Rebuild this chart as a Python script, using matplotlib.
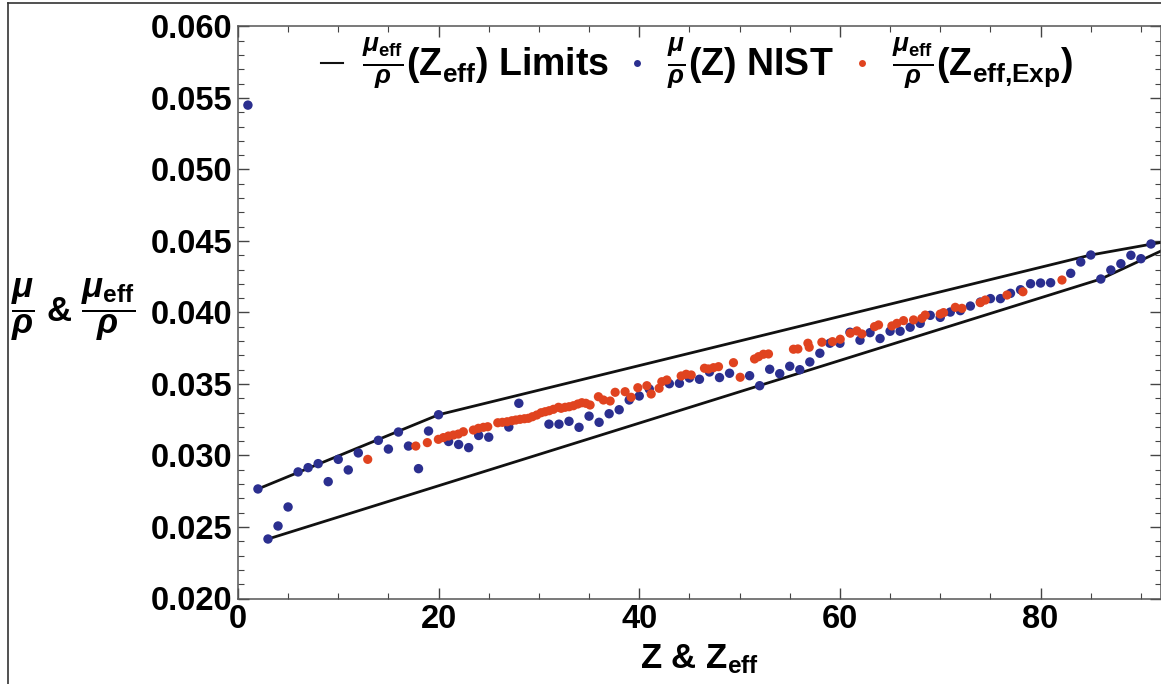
import numpy as np
import matplotlib
matplotlib.use("Agg")
import matplotlib.pyplot as plt
from matplotlib.lines import Line2D
from matplotlib.ticker import MultipleLocator, FormatStrFormatter

plt.rcParams['font.family'] = ['Liberation Sans', 'DejaVu Sans']
plt.rcParams['font.weight'] = 'bold'
plt.rcParams['mathtext.fontset'] = 'custom'
plt.rcParams['mathtext.rm'] = 'Liberation Sans:bold'
plt.rcParams['mathtext.it'] = 'Liberation Sans:bold:italic'
plt.rcParams['mathtext.bf'] = 'Liberation Sans:bold'
plt.rcParams['mathtext.sf'] = 'Liberation Sans:bold'

# NIST mu/rho vs Z (hidden points left out)
nist_z = [1, 2, 3, 4, 5, 6, 7, 8, 9, 10, 11, 12,
          14, 15, 16, 17, 18, 19, 20, 21, 22, 23, 24, 25,
          27, 28,
          31, 32, 33, 34, 35, 36, 37, 38, 39, 40, 41,
          43, 44, 45, 46, 47, 48, 49,
          51, 52, 53, 54, 55, 56, 57, 58, 59, 60,
          61, 62, 63, 64, 65, 66, 67, 68, 69, 70,
          71, 72, 73, 74, 75, 76, 77, 78, 79, 80, 81,
          83, 84, 85, 86, 87, 88, 89, 90, 91]
nist_mu = [0.0545, 0.02766, 0.02416, 0.02507, 0.02640, 0.02885, 0.02915, 0.02943, 0.02817, 0.02973, 0.02899, 0.03018,
           0.03106, 0.03045, 0.03164, 0.03066, 0.02908, 0.03171, 0.03285, 0.03098, 0.03077, 0.03055, 0.03140, 0.03128,
           0.03199, 0.03365,
           0.03219, 0.03219, 0.03239, 0.03197, 0.03275, 0.03232, 0.03292, 0.03320, 0.03388, 0.03416, 0.03465,
           0.03502, 0.03505, 0.03542, 0.03533, 0.03584, 0.03545, 0.03575,
           0.03558, 0.03488, 0.03603, 0.03572, 0.03624, 0.03600, 0.03654, 0.03715, 0.03785, 0.03785,
           0.03862, 0.03806, 0.03859, 0.03818, 0.03869, 0.03869, 0.03897, 0.03924, 0.03980, 0.03966,
           0.04003, 0.04013, 0.04045, 0.04073, 0.04097, 0.04097, 0.04134, 0.04159, 0.04201, 0.04206, 0.04208,
           0.04274, 0.04353, 0.04402, 0.04234, 0.04297, 0.04341, 0.04400, 0.04376, 0.04479]

# experimental mu_eff/rho vs Z_eff
exp_z = [12.94, 17.73, 18.88, 19.98, 20.48, 20.98, 21.48, 21.97, 22.47, 23.47,
         23.97, 24.47, 24.9, 25.9, 26.36, 26.83, 27.3, 27.7, 28.13, 28.56,
         28.95, 29.35, 29.79, 30.22, 30.62, 31.02, 31.45, 31.95, 32.21, 32.61,
         33.01, 33.44, 33.88, 34.28, 34.68, 35.1, 35.93, 36.43, 37.1, 37.6,
         38.59, 39.19, 39.86, 40.76, 41.19, 41.98, 42.25, 42.75, 44.18, 44.68,
         45.18, 46.5, 46.9, 47.4, 47.9, 49.39, 50.06, 51.49, 51.89, 52.38,
         52.88, 55.37, 55.81, 56.81, 56.94, 58.2, 59.26, 60.03, 61.03, 61.69,
         62.19, 63.45, 63.85, 65.18, 65.68, 66.34, 67.34, 68.17, 68.5, 70.0,
         70.33, 71.5, 72.16, 73.99, 74.49, 76.65, 78.24, 82.13]
exp_mu = [0.02973, 0.03066, 0.03090, 0.03113, 0.03125, 0.03136, 0.03143, 0.03150, 0.03166, 0.03178,
          0.03190, 0.03197, 0.03201, 0.03229, 0.03232, 0.03236, 0.03243, 0.03248, 0.03253, 0.03257,
          0.03260, 0.03271, 0.03283, 0.03299, 0.03306, 0.03313, 0.03323, 0.03337, 0.03330, 0.03337,
          0.03341, 0.03348, 0.03360, 0.03369, 0.03365, 0.03353, 0.03411, 0.03388, 0.03381, 0.03442,
          0.03446, 0.03407, 0.03474, 0.03488, 0.03430, 0.03470, 0.03516, 0.03528, 0.03556, 0.03568,
          0.03563, 0.03610, 0.03605, 0.03614, 0.03621, 0.03649, 0.03547, 0.03675, 0.03691, 0.03708,
          0.03710, 0.03743, 0.03745, 0.03785, 0.03757, 0.03792, 0.03796, 0.03813, 0.03855, 0.03871,
          0.03850, 0.03901, 0.03913, 0.03906, 0.03924, 0.03943, 0.03948, 0.03959, 0.03982, 0.03989,
          0.03999, 0.04036, 0.04029, 0.04069, 0.04087, 0.04122, 0.04145, 0.04227]

# limit lines
upper_z = [2, 20, 85, 92]
upper_mu = [0.02766, 0.03285, 0.04402, 0.0449]
lower_z = [3, 86, 92]
lower_mu = [0.02416, 0.04234, 0.0443]

blue = '#2b2f8f'
red = '#e0431f'

fig = plt.figure(figsize=(11.61, 6.84), dpi=100)
ax = fig.add_axes([0.2049, 0.125, 0.7951, 0.8363])

ax.plot(upper_z, upper_mu, color='#111111', lw=2.0, zorder=2)
ax.plot(lower_z, lower_mu, color='#111111', lw=2.0, zorder=2)
ax.scatter(nist_z, nist_mu, s=46, color=blue, edgecolors='none', zorder=3)
ax.scatter(exp_z, exp_mu, s=44, color=red, edgecolors='none', zorder=4)

ax.set_xlim(0, 92)
ax.set_ylim(0.020, 0.060)
ax.xaxis.set_major_locator(MultipleLocator(20))
ax.xaxis.set_minor_locator(MultipleLocator(5))
ax.yaxis.set_major_locator(MultipleLocator(0.005))
ax.yaxis.set_minor_locator(MultipleLocator(0.001))
ax.yaxis.set_major_formatter(FormatStrFormatter('%.3f'))
ax.tick_params(which='both', direction='in', top=True, right=True, color='#444444')
ax.tick_params(which='major', length=8, width=1.0, labelsize=23.5, pad=4)
ax.tick_params(which='minor', length=4, width=0.8)
for lab in ax.get_xticklabels() + ax.get_yticklabels():
    lab.set_fontweight('bold')
for sp in ax.spines.values():
    sp.set_color('#555555')
    sp.set_linewidth(1.1)

ax.set_xlabel(r'Z & Z$_{\rm eff}$', fontsize=25, fontweight='bold', labelpad=5)
ax.set_ylabel(r'$\dfrac{\mu}{\rho}$ & $\dfrac{\mu_{\rm eff}}{\rho}$', fontsize=25,
              fontweight='bold', rotation=0, ha='center', va='center')
ax.yaxis.set_label_coords(-0.178, 0.505)

handles = [
    Line2D([], [], color='#111111', lw=1.5),
    Line2D([], [], ls='none', marker='o', ms=5, color=blue, mec='none'),
    Line2D([], [], ls='none', marker='o', ms=5, color=red, mec='none'),
]
labels = [
    r'$\frac{\mu_{\rm eff}}{\rho}$(Z$_{\rm eff}$) Limits',
    r'$\frac{\mu}{\rho}$(Z) NIST',
    r'$\frac{\mu_{\rm eff}}{\rho}$(Z$_{\rm eff{,}Exp}$)',
]
ax.legend(handles, labels, loc='upper center', bbox_to_anchor=(0.497, 1.042), ncol=3,
          frameon=False, handlelength=0.6, handletextpad=0.5,
          columnspacing=0.45, prop={'weight': 'bold', 'size': 27})

# outer border of the original figure
fig.add_artist(Line2D([8 / 1161, 8 / 1161], [0, 1 - 3 / 684], transform=fig.transFigure,
                      color='#333333', lw=1.2))
fig.add_artist(Line2D([8 / 1161, 1], [1 - 3 / 684, 1 - 3 / 684], transform=fig.transFigure,
                      color='#333333', lw=1.2))

fig.savefig('out.png', dpi=100)
